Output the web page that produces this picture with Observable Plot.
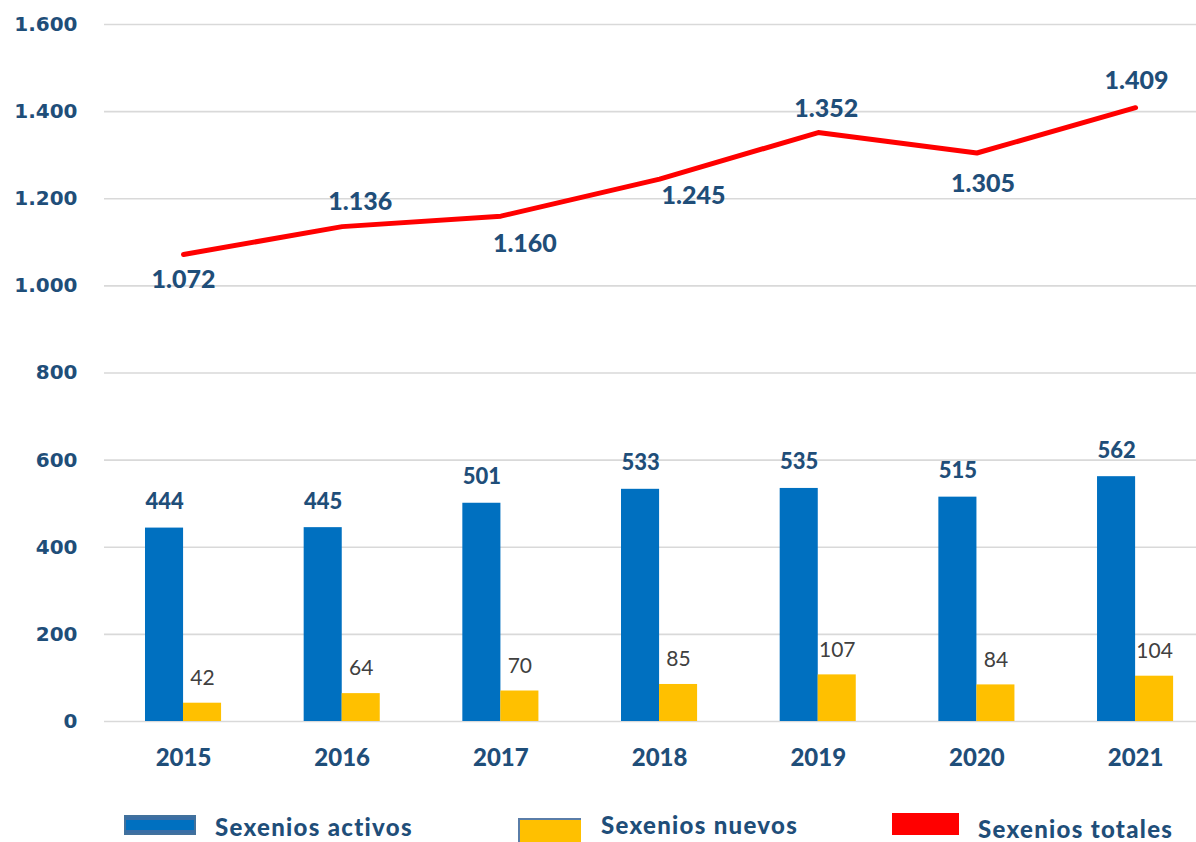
<!DOCTYPE html>
<html>
<head>
<meta charset="utf-8">
<script src="https://cdn.jsdelivr.net/npm/d3@7"></script>
<script src="https://cdn.jsdelivr.net/npm/@observablehq/plot@0.6"></script>
<style>
  html, body { margin: 0; padding: 0; background: #fff; }
  #wrap { position: relative; width: 1196px; height: 842px; overflow: hidden; }
  #chart svg { display: block; }
  .lg { position: absolute; }
  .lgtext { position: absolute; font-family: Lato, sans-serif; font-weight: 900; font-size: 24px;
            color: #1F4E79; white-space: nowrap; line-height: 1; letter-spacing: 1.3px; transform: translateY(-50%); }
</style>
</head>
<body>
<div id="wrap">
  <div id="chart"></div>
  <div class="lg" style="left:124px; top:815px; width:72px; height:20px; background:#0070C0; box-sizing:border-box; border:2px solid #41719C; box-shadow: inset 0 3px 0 #3A6EA5, inset 0 -3px 0 #3A6EA5;"></div>
  <div class="lgtext" style="left:215px; top:827px;">Sexenios activos</div>
  <div class="lg" style="left:518px; top:818px; width:63px; height:26px; background:#FFC000; box-sizing:border-box; border-top:2px solid #5A7DA8; border-left:2px solid #5A7DA8;"></div>
  <div class="lgtext" style="left:601px; top:825px;">Sexenios nuevos</div>
  <div class="lg" style="left:892px; top:813px; width:67px; height:22px; background:#FF0000;"></div>
  <div class="lgtext" style="left:978px; top:829px;">Sexenios totales</div>
</div>
<script>
const years = ["2015", "2016", "2017", "2018", "2019", "2020", "2021"];
const activos = [444, 445, 501, 533, 535, 515, 562];
const nuevos = [42, 64, 70, 85, 107, 84, 104];
const totales = [1072, 1136, 1160, 1245, 1352, 1305, 1409];
const yTicks = [0, 200, 400, 600, 800, 1000, 1200, 1400, 1600];

const data = years.map((year, i) => ({year, activos: activos[i], nuevos: nuevos[i], total: totales[i]}));

const fmt = d3.formatLocale({decimal: ",", thousands: ".", grouping: [3], currency: ["", "€"]}).format(",d");

// label placement offsets (style) for the line labels, Excel-like
const lineLabelOffsets = [[0, 25], [18, -25], [24, 28], [34, 17], [8, -24], [6, 31], [1, -27]];

const darkBlue = "#1F4E79";
const labelFont = "Lato, sans-serif";

const marks = [
  Plot.ruleY(yTicks, {stroke: "#D9D9D9", strokeWidth: 1.6}),
  Plot.axisY(yTicks, {tickSize: 0, tickPadding: 27, tickFormat: fmt, fontSize: 20, fontWeight: "bold",
    fontFamily: "DejaVu Sans, Verdana, sans-serif", fill: darkBlue, label: null}),
  Plot.axisX({tickSize: 0, tickPadding: 27, fontSize: 24, fontWeight: 900, fontFamily: labelFont, fill: darkBlue, label: null}),
  Plot.barY(data, {x: "year", y: "activos", fill: "#0070C0", dx: -19}),
  Plot.barY(data, {x: "year", y: "nuevos", fill: "#FFC000", dx: 19}),
  Plot.text(data, {x: "year", y: "activos", text: d => fmt(d.activos), dx: -19, dy: -26,
    fontSize: 22, fontWeight: 900, fontFamily: labelFont, fill: darkBlue}),
  Plot.text(data, {x: "year", y: "nuevos", text: d => fmt(d.nuevos), dx: 19, dy: -25,
    fontSize: 21, fontFamily: labelFont, fill: "#404040"}),
  Plot.line(data, {x: "year", y: "total", stroke: "#FF0000", strokeWidth: 5, strokeLinecap: "round", strokeLinejoin: "round"}),
  ...lineLabelOffsets.map(([dx, dy], i) => Plot.text([data[i]], {x: "year", y: "total", text: d => fmt(d.total),
    dx, dy, fontSize: 25, fontWeight: 900, fontFamily: labelFont, fill: darkBlue}))
];

const chart = Plot.plot({
  width: 1196,
  height: 790,
  marginTop: 24,
  marginBottom: 69,
  marginLeft: 104,
  marginRight: 0,
  style: {background: "#fff", overflow: "visible"},
  x: {domain: years, range: [43.4, 1274.7], padding: 0.76, round: false, axis: null},
  y: {domain: [0, 1600], axis: null},
  marks
});
document.getElementById("chart").appendChild(chart);
</script>
</body>
</html>
